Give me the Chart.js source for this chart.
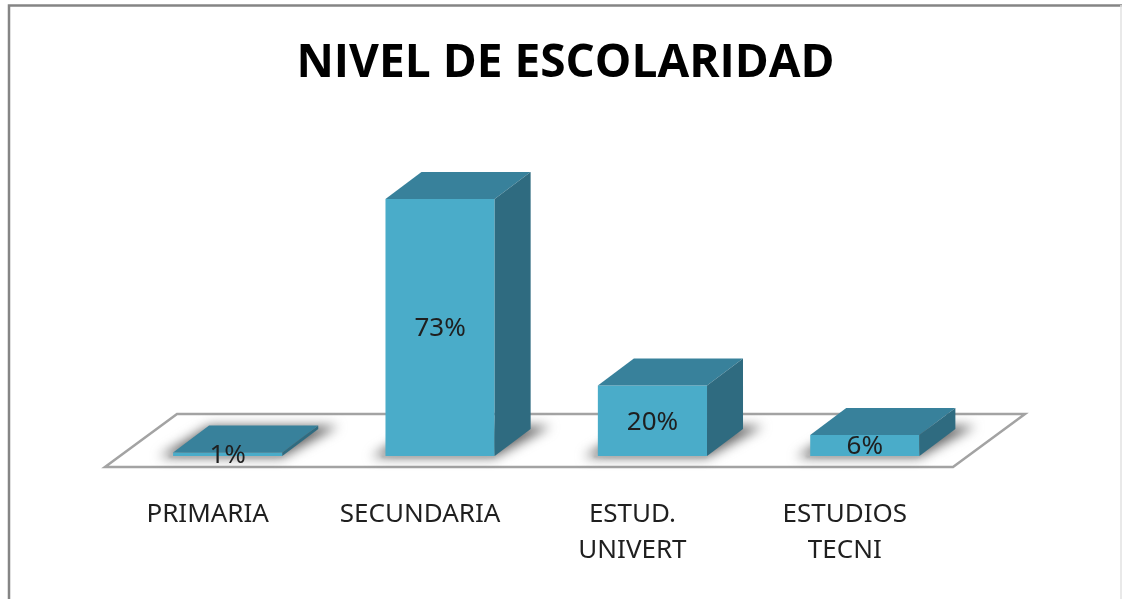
<!DOCTYPE html>
<html><head><meta charset="utf-8">
<style>html,body{margin:0;padding:0;background:#fff}#w{position:absolute;left:0;top:0;width:1122px;height:599px}#c{filter:blur(0.5px)}</style>
<script src="https://cdn.jsdelivr.net/npm/chart.js@4"></script>
</head><body><div id="w"><canvas id="c" width="1122" height="599"></canvas></div>
<script>
const categories = [["PRIMARIA"], ["SECUNDARIA"], ["ESTUD.", "UNIVERT"], ["ESTUDIOS", "TECNI"]];
const values = [1, 73, 20, 6];
const valueLabels = ["1%", "73%", "20%", "6%"];
const chartTitle = "NIVEL DE ESCOLARIDAD";

const depthX = 36, depthY = 27;
const scene = {
  id: "scene",
  beforeDraw(chart) {
    const c = chart.ctx;
    c.save();
    c.fillStyle = "#fff"; c.fillRect(0, 0, chart.width, chart.height);
    c.strokeStyle = "#858585"; c.lineWidth = 2.5;
    c.beginPath(); c.moveTo(9, 599); c.lineTo(9, 5.5); c.lineTo(1122, 5.5); c.stroke();
    c.strokeStyle = "#e2e2e2"; c.lineWidth = 1.5;
    c.beginPath(); c.moveTo(1121, 5); c.lineTo(1121, 599); c.stroke();
    c.restore();
  },
  beforeDatasetsDraw(chart) {
    const c = chart.ctx, a = chart.chartArea, y0 = chart.scales.y.getPixelForValue(0);
    c.save();
    c.strokeStyle = "#a3a3a3"; c.lineWidth = 2.5; c.lineJoin = "miter";
    c.beginPath();
    c.moveTo(a.left - 16.5, y0 + 11); c.lineTo(a.right - 18, y0 + 11);
    c.lineTo(a.right + 54, y0 - 42); c.lineTo(a.left + 55.5, y0 - 42); c.closePath();
    c.stroke();
    c.filter = "blur(6px)"; c.fillStyle = "#666666";
    chart.getDatasetMeta(0).data.forEach(b => {
      const l = b.x - b.width / 2, r = b.x + b.width / 2;
      c.beginPath();
      c.moveTo(l - 14, y0 + 1); c.lineTo(r, y0 + 1);
      c.lineTo(r + depthX + 20, y0 - depthY - 3); c.lineTo(l + depthX, y0 - depthY - 3);
      c.closePath(); c.fill();
    });
    c.filter = "blur(1px)"; c.fillStyle = "#b4b4b4";
    chart.getDatasetMeta(0).data.forEach(b => {
      const l = b.x - b.width / 2, r = b.x + b.width / 2;
      c.fillRect(l - 4, y0 - 1, r - l + 4, 2.5);
    });
    c.restore();
  },
  afterDatasetsDraw(chart) {
    const c = chart.ctx;
    c.save();
    chart.getDatasetMeta(0).data.forEach(b => {
      const l = b.x - b.width / 2, r = b.x + b.width / 2, t = b.y, y0 = b.base;
      c.fillStyle = "#38819b";
      c.beginPath(); c.moveTo(l, t); c.lineTo(r, t); c.lineTo(r + depthX, t - depthY); c.lineTo(l + depthX, t - depthY); c.closePath(); c.fill();
      c.fillStyle = "#2f6b80";
      c.beginPath(); c.moveTo(r, t); c.lineTo(r + depthX, t - depthY); c.lineTo(r + depthX, y0 - depthY); c.lineTo(r, y0); c.closePath(); c.fill();
    });
    c.restore();
  },
  afterDraw(chart) {
    const c = chart.ctx;
    c.save();
    c.font = '26px "Noto Sans"'; c.fillStyle = "#1f1f1f"; c.textAlign = "center"; c.textBaseline = "middle";
    chart.getDatasetMeta(0).data.forEach((b, i) => c.fillText(valueLabels[i], b.x, (b.y + b.base) / 2 + 1.5));
    c.restore();
  }
};

new Chart(document.getElementById("c"), {
  type: "bar",
  data: { labels: categories, datasets: [{ data: values, backgroundColor: "#4aacc9", borderWidth: 0, barPercentage: 0.514, categoryPercentage: 1 }] },
  plugins: [scene],
  options: {
    responsive: false, animation: false,
    layout: { padding: { left: 9, right: 0, top: 0, bottom: 0 } },
    plugins: {
      legend: { display: false }, tooltip: { enabled: false },
      title: { display: true, text: chartTitle, color: "#000", font: { family: '"Open Sans"', weight: "bold", size: 46, lineHeight: 1.2 }, padding: { top: 36.4, bottom: 82.8 } }
    },
    scales: {
      x: {
        grid: { display: false }, border: { display: false },
        ticks: { color: "#1f1f1f", font: { family: '"Noto Sans"', size: 26, lineHeight: 1.385 }, padding: 33, labelOffset: -20, maxRotation: 0, autoSkip: false },
        afterFit(s) { s.height = 143; }
      },
      y: {
        min: 0, max: 80, grid: { display: false }, border: { display: false }, ticks: { display: false },
        afterFit(s) { s.width = 112.5; }
      },
      y2: {
        position: "right", min: 0, max: 80, grid: { display: false }, border: { display: false }, ticks: { display: false },
        afterFit(s) { s.width = 151; }
      }
    }
  }
});
</script></body></html>
